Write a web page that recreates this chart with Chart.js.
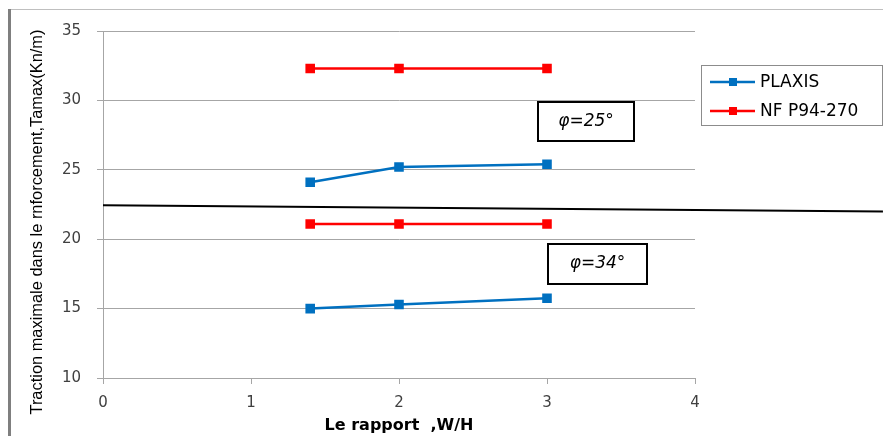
<!DOCTYPE html>
<html>
<head>
<meta charset="utf-8">
<script src="https://cdn.jsdelivr.net/npm/chart.js@4"></script>
<style>
  body { margin: 0; background: #fff; }
  canvas { display: block; }
</style>
</head>
<body>
<canvas id="chart" width="883" height="436"></canvas>
<script>
// ---- data ----
const ratioWH = [1.4, 2, 3];
const plaxis25 = [24.1, 25.2, 25.4];
const nf25 = [32.3, 32.3, 32.3];
const plaxis34 = [15.0, 15.3, 15.75];
const nf34 = [21.1, 21.1, 21.1];
const dividerX = [0, 5.27];
const dividerY = [22.45, 22.0];
const yTicks = [10, 15, 20, 25, 30, 35];
const xTicks = [0, 1, 2, 3, 4];
const seriesNames = ['PLAXIS', 'NF P94-270'];
const phiLabels = ['\u03C6=25\u00B0', '\u03C6=34\u00B0'];

const BLUE = '#0070C0';
const RED = '#FF0000';

function pts(xs, ys) {
    return xs.map((x, i) => ({ x: x, y: ys[i] }));
}

function series(values, color) {
    return {
        data: pts(ratioWH, values),
        borderColor: color,
        backgroundColor: color,
        borderWidth: 2.5,
        pointStyle: 'rect',
        pointRadius: 5,
        pointHoverRadius: 5,
        tension: 0
    };
}

// ================= DECORATIONS =================
const decor = {
    id: 'decor',
    beforeDraw(chart) {
        const c = chart.ctx;
        c.save();
        c.fillStyle = '#fff';
        c.fillRect(0, 0, chart.width, chart.height);
        c.fillStyle = '#bfbfbf';
        c.fillRect(10, 9, chart.width - 10, 1);
        c.fillStyle = '#7f7f7f';
        c.fillRect(8, 9, 3, chart.height - 9);
        c.restore();
    },
    afterDraw(chart) {
        const c = chart.ctx;
        c.save();

        // y axis title
        const yTitle = 'Traction maximale dans le rnforcement,Tamax(Kn/m)';
        c.font = '17px "Liberation Sans", Arial, sans-serif';
        c.fillStyle = '#000';
        c.textAlign = 'center';
        c.textBaseline = 'middle';
        const w = c.measureText(yTitle).width;
        c.translate(37, 222);
        c.rotate(-Math.PI / 2);
        c.scale(385 / w, 1);
        c.fillText(yTitle, 0, 0);
        c.restore();

        // legend
        c.save();
        c.strokeStyle = '#8c8c8c';
        c.lineWidth = 1;
        c.strokeRect(701.5, 65.5, 181, 60);
        const colors = [BLUE, RED];
        const rows = [82, 111];
        c.font = '17px "DejaVu Sans", sans-serif';
        c.textBaseline = 'middle';
        c.textAlign = 'left';
        seriesNames.forEach((name, i) => {
            const y = rows[i];
            c.strokeStyle = colors[i];
            c.lineWidth = 2.5;
            c.beginPath();
            c.moveTo(710, y);
            c.lineTo(755, y);
            c.stroke();
            c.fillStyle = colors[i];
            c.fillRect(729, y - 4, 8, 8);
            c.fillStyle = '#000';
            c.fillText(name, 760, y + 1);
        });

        // phi boxes
        const boxes = [
            { l: 538, t: 102, r: 634, b: 141 },
            { l: 548, t: 244, r: 647, b: 284 }
        ];
        c.strokeStyle = '#000';
        c.lineWidth = 2;
        c.font = 'italic 17px "DejaVu Sans", sans-serif';
        c.textAlign = 'center';
        boxes.forEach((bx, i) => {
            c.strokeRect(bx.l, bx.t, bx.r - bx.l, bx.b - bx.t);
            c.fillStyle = '#000';
            c.fillText(phiLabels[i], (bx.l + bx.r) / 2, (bx.t + bx.b) / 2);
        });
        c.restore();
    }
};

// ================= CHART.JS =================
const ctx = document.getElementById('chart');

new Chart(ctx, {
    type: 'line',
    data: {
        datasets: [
            series(plaxis25, BLUE),
            series(nf25, RED),
            series(plaxis34, BLUE),
            series(nf34, RED),
            {
                data: pts(dividerX, dividerY),
                borderColor: '#000',
                borderWidth: 2,
                pointRadius: 0,
                clip: false,
                tension: 0
            }
        ]
    },
    options: {
        responsive: false,
        animation: false,
        layout: { padding: { left: 14, right: 188, top: 31, bottom: 0 } },
        plugins: {
            legend: { display: false },
            tooltip: { enabled: false }
        },
        scales: {
            x: {
                type: 'linear',
                min: 0,
                max: 4,
                afterBuildTicks: (s) => { s.ticks = xTicks.map(v => ({ value: v })); },
                afterFit: (s) => { s.height = 58; },
                ticks: {
                    color: '#404040',
                    padding: 10,
                    font: { family: '"DejaVu Sans", sans-serif', size: 15 }
                },
                grid: { drawOnChartArea: false, tickLength: 6, color: '#a6a6a6' },
                border: { color: '#a6a6a6' }
                ,
                title: {
                    display: true,
                    text: 'Le rapport  ,W/H',
                    color: '#000',
                    padding: { top: 0, bottom: 1 },
                    font: { family: '"DejaVu Sans", sans-serif', size: 16, weight: 'bold' }
                }
            },
            y: {
                min: 10,
                max: 35,
                afterBuildTicks: (s) => { s.ticks = yTicks.map(v => ({ value: v })); },
                afterFit: (s) => { s.width = 89; },
                ticks: {
                    color: '#404040',
                    padding: 16,
                    font: { family: '"DejaVu Sans", sans-serif', size: 15 }
                },
                grid: { tickLength: 6, color: '#a6a6a6' },
                border: { color: '#a6a6a6' }
            }
        }
    },
    plugins: [decor]
});
</script>
</body>
</html>
